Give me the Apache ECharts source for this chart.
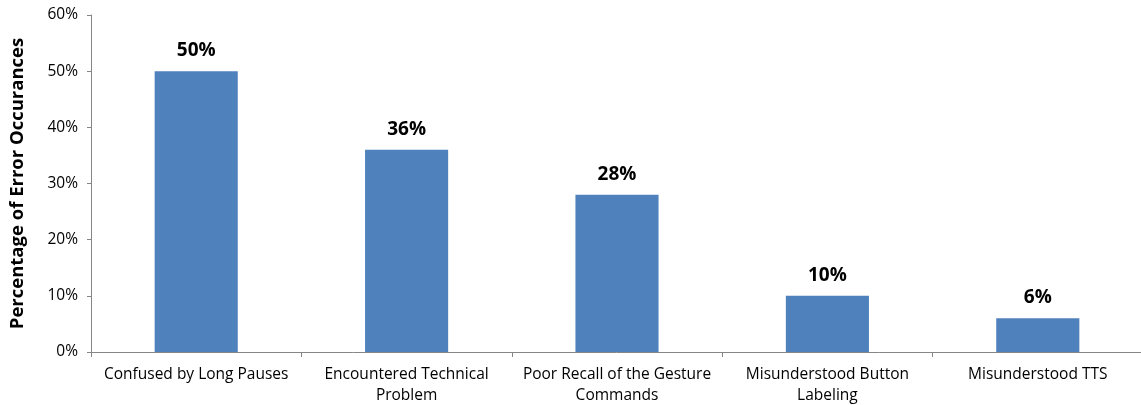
<!DOCTYPE html>
<html><head><meta charset="utf-8">
<script src="https://cdn.jsdelivr.net/npm/echarts@6/dist/echarts.min.js"></script>
<style>html,body{margin:0;padding:0;background:#fff}#c{width:1141px;height:405px}</style>
</head><body><div id="c"></div>
<script>
var categories = ["Confused by Long Pauses", "Encountered Technical\nProblem", "Poor Recall of the Gesture\nCommands", "Misunderstood Button\nLabeling", "Misunderstood TTS"];
var values = [50, 36, 28, 10, 6];
var yTicks = [0, 10, 20, 30, 40, 50, 60];
var font = "'Open Sans', 'Noto Sans', sans-serif";
var chart = echarts.init(document.getElementById('c'));
chart.setOption({
  animation: false,
  grid: {left: 91, right: -2, top: 15, bottom: 53, containLabel: false, outerBoundsMode: 'none'},
  xAxis: {
    type: 'category', data: categories,
    axisLine: {lineStyle: {color: '#868686', width: 1}},
    axisTick: {show: true, length: 5, lineStyle: {color: '#868686'}},
    axisLabel: {color: '#000', fontSize: 15.5, fontFamily: font, margin: 12, lineHeight: 21, interval: 0}
  },
  yAxis: {
    type: 'value', min: 0, max: 60, interval: 10,
    name: 'Percentage of Error Occurances', nameLocation: 'middle', nameGap: 64,
    nameTextStyle: {color: '#000', fontSize: 18.5, fontWeight: 'bold', fontFamily: font},
    axisLine: {show: true, lineStyle: {color: '#868686', width: 1}},
    axisTick: {show: true, length: 4, lineStyle: {color: '#868686'}},
    splitLine: {show: false},
    axisLabel: {color: '#000', fontSize: 15.5, fontFamily: font, margin: 13, formatter: function(v){return yTicks.indexOf(v) >= 0 ? v + '%' : '';}}
  },
  series: [{
    type: 'bar', data: values, barWidth: '39.5%',
    itemStyle: {color: '#4F81BD'},
    label: {show: true, position: 'top', distance: 11, color: '#000', fontSize: 19, fontWeight: 'bold', fontFamily: font, formatter: '{c}%'}
  }]
});
</script></body></html>
